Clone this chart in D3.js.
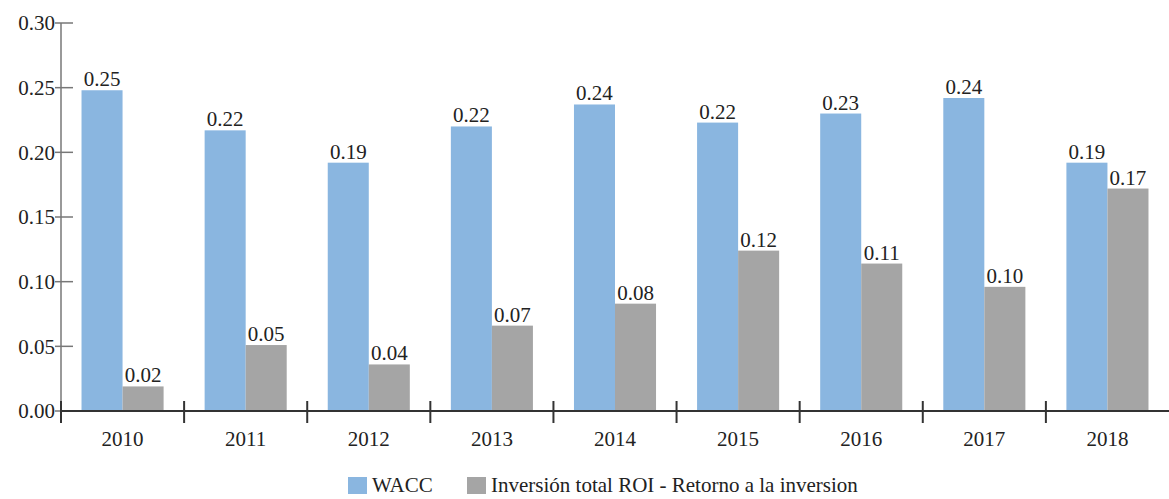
<!DOCTYPE html>
<html>
<head>
<meta charset="utf-8">
<script src="https://d3js.org/d3.v7.min.js"></script>
<style>
  body { margin: 0; background: #fff; }
  text { font-family: "Liberation Serif", "Times New Roman", Times, serif; fill: #222; }
</style>
</head>
<body>
<svg width="1169" height="499"></svg>
<script>
var years = ['2010', '2011', '2012', '2013', '2014', '2015', '2016', '2017', '2018'];
var wacc = [0.248, 0.217, 0.192, 0.220, 0.237, 0.223, 0.230, 0.242, 0.192];
var roi = [0.019, 0.051, 0.036, 0.066, 0.083, 0.124, 0.114, 0.096, 0.172];
var seriesNames = ['WACC', 'Inversión total ROI - Retorno a la inversion'];
var yTicks = [0, 0.05, 0.10, 0.15, 0.20, 0.25, 0.30];

var colors = ['#8ab6e0', '#a5a5a5'];

var svg = d3.select('svg'),
    w = +svg.attr('width'),
    h = +svg.attr('height');

var mLeft = 61, mRight = 1169, mTop = 23, mBottom = 411;

var x = d3.scaleBand()
      .domain(years)
      .range([mLeft, mRight]),
    xInner = d3.scaleBand()
      .domain([0, 1])
      .range([0, x.bandwidth()])
      .paddingOuter(0.5),
    y = d3.scaleLinear()
      .domain([0, 0.30])
      .range([mBottom, mTop]);

var data = years.map(function(yr, i) { return { year: yr, vals: [wacc[i], roi[i]] }; });

var groups = svg.selectAll('g.year')
  .data(data)
  .enter()
  .append('g')
  .attr('class', 'year')
  .attr('transform', function(d) { return 'translate(' + x(d.year) + ',0)'; });

groups.selectAll('rect')
  .data(function(d) { return d.vals; })
  .enter()
  .append('rect')
  .attr('x', function(d, i) { return xInner(i); })
  .attr('y', function(d) { return y(d); })
  .attr('width', xInner.bandwidth())
  .attr('height', function(d) { return mBottom - y(d); })
  .attr('fill', function(d, i) { return colors[i]; });

groups.selectAll('text.lbl')
  .data(function(d) { return d.vals; })
  .enter()
  .append('text')
  .attr('class', 'lbl')
  .attr('x', function(d, i) { return xInner(i) + xInner.bandwidth() / 2; })
  .attr('y', function(d) { return y(d) - 4; })
  .attr('text-anchor', 'middle')
  .style('font-size', '21px')
  .text(function(d) { return d.toFixed(2); });

// y axis
var yAxis = svg.append('g');
yAxis.append('line')
  .attr('x1', mLeft).attr('x2', mLeft)
  .attr('y1', mTop).attr('y2', mBottom + 10)
  .attr('stroke', '#777').attr('stroke-width', 1.5);
yAxis.selectAll('line.tick')
  .data(yTicks)
  .enter()
  .append('line')
  .attr('class', 'tick')
  .attr('x1', mLeft - 6).attr('x2', mLeft + 12)
  .attr('y1', function(d) { return y(d); })
  .attr('y2', function(d) { return y(d); })
  .attr('stroke', '#777').attr('stroke-width', 1.5);
yAxis.selectAll('text')
  .data(yTicks)
  .enter()
  .append('text')
  .attr('x', mLeft - 6)
  .attr('y', function(d) { return y(d); })
  .attr('dy', '0.35em')
  .attr('text-anchor', 'end')
  .style('font-size', '21px')
  .text(function(d) { return d.toFixed(2); });

// x axis
var xAxis = svg.append('g');
xAxis.append('line')
  .attr('x1', mLeft).attr('x2', mRight)
  .attr('y1', mBottom).attr('y2', mBottom)
  .attr('stroke', '#333').attr('stroke-width', 2);
xAxis.selectAll('line.tick')
  .data(years)
  .enter()
  .append('line')
  .attr('class', 'tick')
  .attr('x1', function(d) { return x(d); })
  .attr('x2', function(d) { return x(d); })
  .attr('y1', mBottom - 10).attr('y2', mBottom + 12)
  .attr('stroke', '#333').attr('stroke-width', 2);
xAxis.selectAll('text')
  .data(years)
  .enter()
  .append('text')
  .attr('x', function(d) { return x(d) + x.bandwidth() / 2; })
  .attr('y', mBottom + 35)
  .attr('text-anchor', 'middle')
  .style('font-size', '21px')
  .text(function(d) { return d; });

// legend
var legendX = [348, 467];
var legend = svg.selectAll('g.legend')
  .data(seriesNames)
  .enter()
  .append('g')
  .attr('class', 'legend')
  .attr('transform', function(d, i) { return 'translate(' + legendX[i] + ',477)'; });
legend.append('rect')
  .attr('width', 19).attr('height', 17)
  .attr('fill', function(d, i) { return colors[i]; });
legend.append('text')
  .attr('x', 24).attr('y', 15)
  .style('font-size', '21px')
  .text(function(d) { return d; });
</script>
</body>
</html>
